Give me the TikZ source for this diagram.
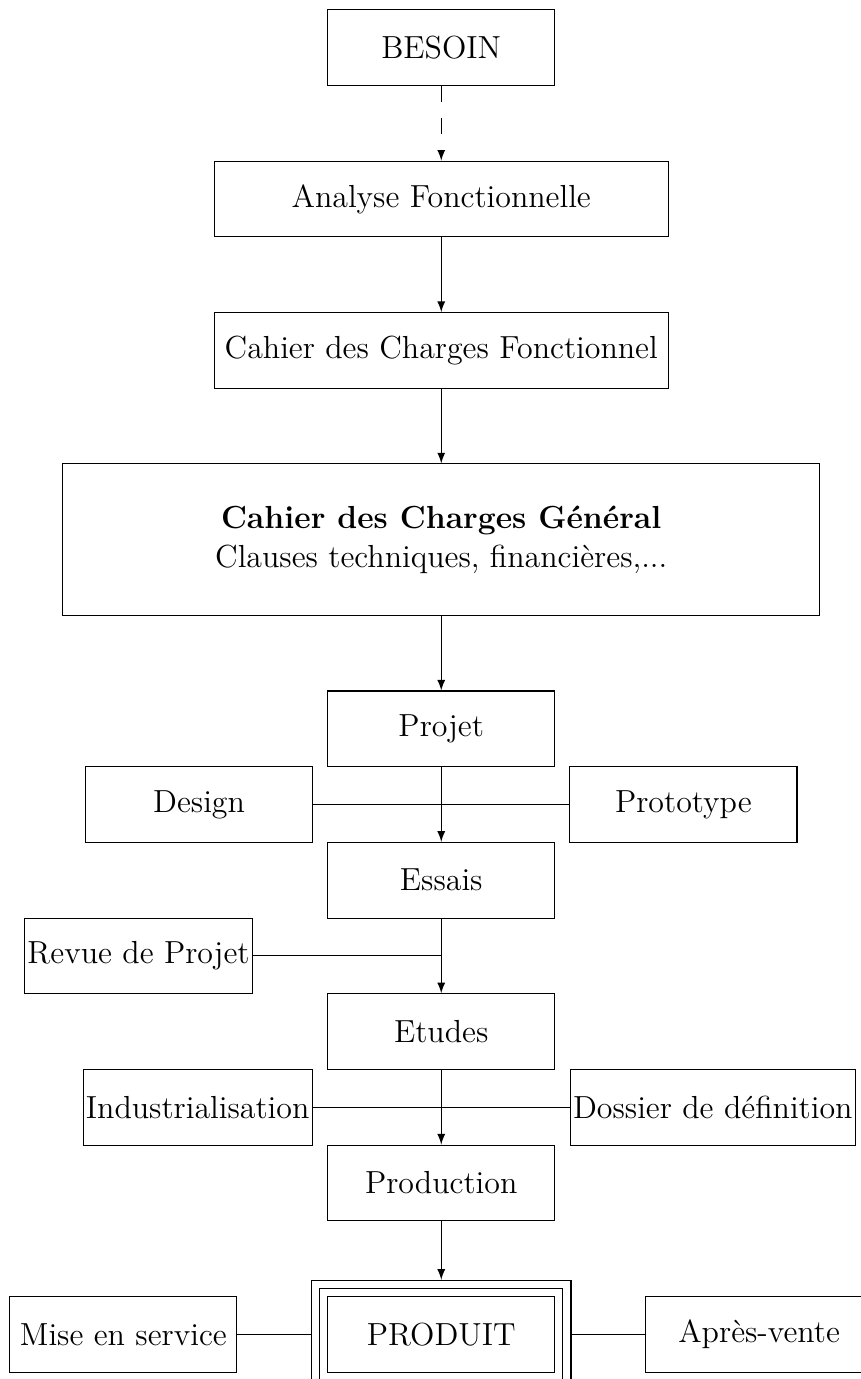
\documentclass[12pt,tikz,border=0pt]{standalone}
\usepackage{fontspec}
\usetikzlibrary{fit}

\begin{document}
\begin{tikzpicture}[
  box/.style={draw, inner xsep=1pt, minimum width=3cm, minimum height=1cm},
  widebox/.style={box, minimum width=6cm}
]
  \useasboundingbox (-5.83,0.63) rectangle (5.54,-17.59);

  \node[box] (besoin) at (0,0) {BESOIN};
  \node[widebox] (analyse) at (0,-2) {Analyse Fonctionnelle};
  \node[widebox] (cdcf) at (0,-4) {Cahier des Charges Fonctionnel};
  \node[box, minimum width=10cm, minimum height=2cm, align=center] (cdcg) at (0,-6.5)
    {\textbf{Cahier des Charges Général}\\Clauses techniques, financières,...};
  \node[box] (projet) at (0,-9) {Projet};
  \node[box] (design) at (-3.2,-10) {Design};
  \node[box] (prototype) at (3.2,-10) {Prototype};
  \node[box] (essais) at (0,-11) {Essais};
  \node[box] (revue) at (-4,-12) {Revue de Projet};
  \node[box] (etudes) at (0,-13) {Etudes};
  \node[box, anchor=east] (indus) at (-1.7,-14) {Industrialisation};
  \node[box, anchor=west] (dossier) at (1.7,-14) {Dossier de définition};
  \node[box] (production) at (0,-15) {Production};
  \node[box] (produit) at (0,-17) {PRODUIT};
  \node[draw, inner sep=0.1cm, fit=(produit)] (produit2) {};
  \node[draw, inner sep=0.1cm, fit=(produit2)] (produit3) {};
  \node[box] (mise) at (-4.2,-17) {Mise en service};
  \node[box] (apres) at (4.2,-17) {Après-vente};

  \draw[-latex, dash pattern=on 6pt off 6pt] (besoin) -- (analyse);
  \draw[-latex] (analyse) -- (cdcf);
  \draw[-latex] (cdcf) -- (cdcg);
  \draw[-latex] (cdcg) -- (projet);
  \draw[-latex] (projet) -- (essais);
  \draw (design) -- (prototype);
  \draw[-latex] (essais) -- (etudes);
  \draw (revue) -- (revue -| essais);
  \draw[-latex] (etudes) -- (production);
  \draw (indus) -- (dossier);
  \draw[-latex] (production) -- (produit3);
  \draw (mise) -- (produit3);
  \draw (produit3) -- (apres);
\end{tikzpicture}
\end{document}
